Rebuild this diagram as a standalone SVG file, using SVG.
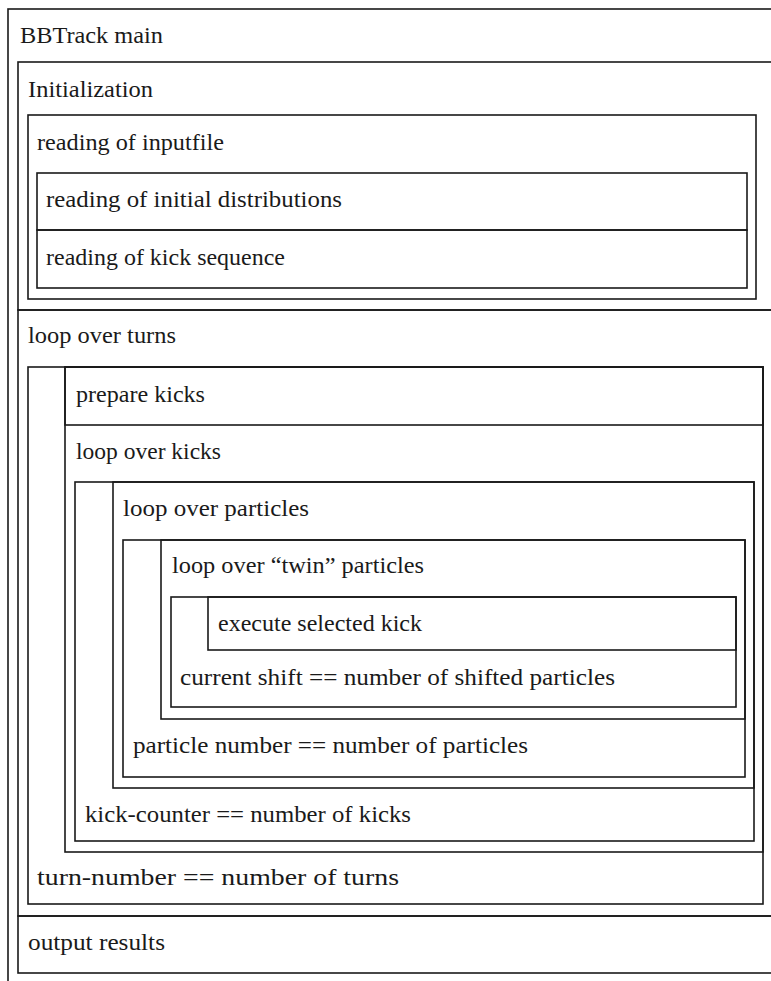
<svg xmlns="http://www.w3.org/2000/svg" width="771" height="981" viewBox="0 0 771 981">
<style>
rect { fill: none; stroke: #1a1a1a; stroke-width: 1.6; }
text { font-size: 23px; fill: #1a1a1a; }
</style>
<rect x="0" y="0" width="771" height="981" style="fill:#ffffff;stroke:none"/>
<g font-family="'Liberation Serif', 'Times New Roman', Times, serif">
<g id="bbtrack-main">
  <rect x="8" y="9" width="790" height="1000"/>
  <text x="20" y="43" textLength="143" lengthAdjust="spacingAndGlyphs">BBTrack main</text>
</g>
<g id="initialization">
  <rect x="18" y="62" width="780" height="248"/>
  <text x="28" y="97" textLength="125" lengthAdjust="spacingAndGlyphs">Initialization</text>
</g>
<g id="reading-inputfile">
  <rect x="28" y="115" width="728" height="184"/>
  <text x="37" y="150" textLength="187" lengthAdjust="spacingAndGlyphs">reading of inputfile</text>
</g>
<g id="reading-initial-distributions">
  <rect x="37" y="173" width="710" height="57"/>
  <text x="46" y="207" textLength="296" lengthAdjust="spacingAndGlyphs">reading of initial distributions</text>
</g>
<g id="reading-kick-sequence">
  <rect x="37" y="230" width="710" height="58"/>
  <text x="46" y="265" textLength="239" lengthAdjust="spacingAndGlyphs">reading of kick sequence</text>
</g>
<g id="loop-over-turns">
  <rect x="18" y="310" width="780" height="606"/>
  <text x="28" y="343" textLength="148" lengthAdjust="spacingAndGlyphs">loop over turns</text>
</g>
<g id="turn-repeat">
  <rect x="28" y="367" width="735" height="537"/>
  <rect x="65" y="367" width="698" height="485"/>
  <text x="37" y="885" textLength="362" lengthAdjust="spacingAndGlyphs">turn-number == number of turns</text>
</g>
<g id="prepare-kicks">
  <rect x="65" y="367" width="698" height="58"/>
  <text x="76" y="402" textLength="129" lengthAdjust="spacingAndGlyphs">prepare kicks</text>
</g>
<g id="loop-over-kicks">
  <text x="76" y="459" textLength="145" lengthAdjust="spacingAndGlyphs">loop over kicks</text>
</g>
<g id="kick-repeat">
  <rect x="75" y="482" width="679" height="359"/>
  <rect x="113" y="482" width="641" height="306"/>
  <text x="85" y="822" textLength="326" lengthAdjust="spacingAndGlyphs">kick-counter == number of kicks</text>
</g>
<g id="loop-over-particles">
  <text x="123" y="516" textLength="186" lengthAdjust="spacingAndGlyphs">loop over particles</text>
</g>
<g id="particle-repeat">
  <rect x="123" y="540" width="622" height="237"/>
  <rect x="161" y="540" width="584" height="179"/>
  <text x="133" y="753" textLength="395" lengthAdjust="spacingAndGlyphs">particle number == number of particles</text>
</g>
<g id="loop-over-twin-particles">
  <text x="172" y="573" textLength="252" lengthAdjust="spacingAndGlyphs">loop over “twin” particles</text>
</g>
<g id="shift-repeat">
  <rect x="171" y="597" width="565" height="110"/>
  <text x="180" y="685" textLength="435" lengthAdjust="spacingAndGlyphs">current shift == number of shifted particles</text>
</g>
<g id="execute-selected-kick">
  <rect x="208" y="597" width="528" height="53"/>
  <text x="218" y="631" textLength="204" lengthAdjust="spacingAndGlyphs">execute selected kick</text>
</g>
<g id="output-results">
  <rect x="18" y="916" width="780" height="57"/>
  <text x="28" y="950" textLength="137" lengthAdjust="spacingAndGlyphs">output results</text>
</g>
</g>
<g id="connectors"></g>
</svg>
